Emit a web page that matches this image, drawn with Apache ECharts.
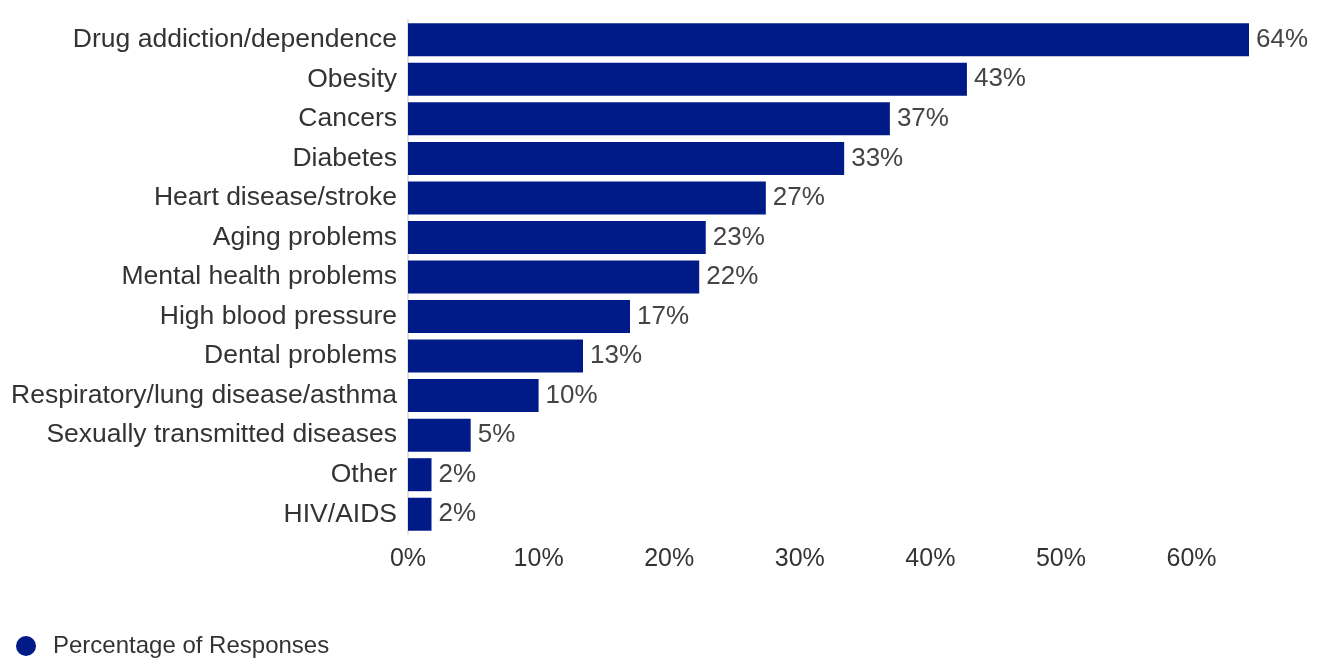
<!DOCTYPE html>
<html>
<head>
<meta charset="utf-8">
<script src="https://cdn.jsdelivr.net/npm/echarts@6/dist/echarts.min.js"></script>
<style>
  html, body { margin: 0; padding: 0; background: #fff; }
  #chart { width: 1320px; height: 660px; }
</style>
</head>
<body>
<div id="chart"></div>
<script>
// Health problems named, share of responses (top to bottom)
const categories = [
  'Drug addiction/dependence',
  'Obesity',
  'Cancers',
  'Diabetes',
  'Heart disease/stroke',
  'Aging problems',
  'Mental health problems',
  'High blood pressure',
  'Dental problems',
  'Respiratory/lung disease/asthma',
  'Sexually transmitted diseases',
  'Other',
  'HIV/AIDS'
];
const responses = [64.4, 42.8, 36.9, 33.4, 27.4, 22.8, 22.3, 17.0, 13.4, 10.0, 4.8, 1.8, 1.8];
const seriesName = 'Percentage of Responses';

const font = 'Liberation Sans, Arial, sans-serif';
const chart = echarts.init(document.getElementById('chart'));
chart.setOption({
  animation: false,
  grid: { left: 408, right: 71, top: 20, bottom: 126, containLabel: false },
  legend: {
    left: 11, top: 629,
    icon: 'circle', itemWidth: 20, itemHeight: 20,
    textStyle: { fontFamily: font, fontSize: 24, color: '#333', padding: [0, 0, 0, 12] },
    data: [seriesName]
  },
  xAxis: {
    type: 'value', min: 0, max: 'dataMax', interval: 10,
    axisLine: { show: false }, axisTick: { show: false }, splitLine: { show: false },
    axisLabel: {
      formatter: v => v + '%', fontFamily: font, fontSize: 25, color: '#333',
      margin: 13, showMaxLabel: false
    }
  },
  yAxis: {
    type: 'category', data: categories, inverse: true,
    axisLine: { show: true, lineStyle: { color: '#e2e2e2', width: 2 } },
    axisTick: { show: false },
    axisLabel: { fontFamily: font, fontSize: 26.5, color: '#333', margin: 11 }
  },
  series: [{
    name: seriesName, type: 'bar', data: responses,
    barWidth: 33,
    itemStyle: { color: '#001a88' },
    label: {
      show: true, position: 'right', distance: 7,
      formatter: p => Math.round(p.value) + '%',
      fontFamily: font, fontSize: 26, color: '#444'
    }
  }]
});
</script>
</body>
</html>
